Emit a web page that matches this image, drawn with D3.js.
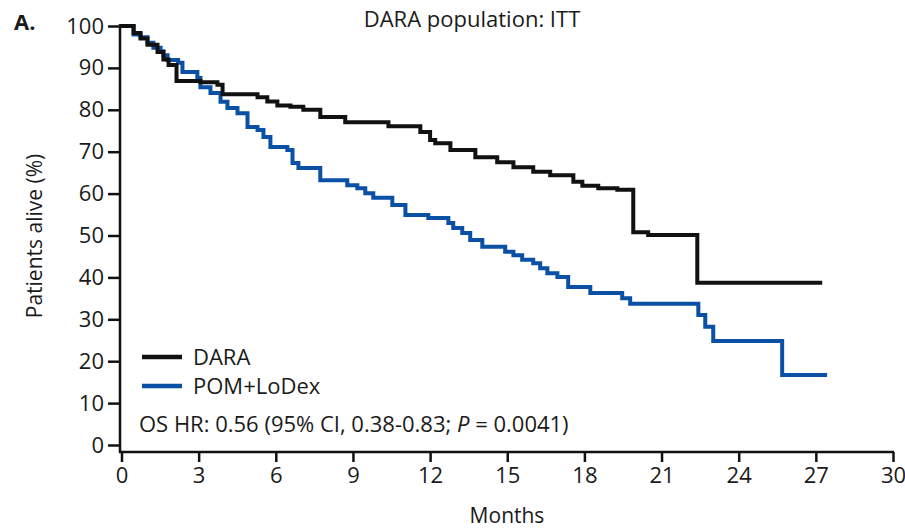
<!DOCTYPE html>
<html lang="en">
<head>
    <meta charset="UTF-8">
    <title>DARA population: ITT</title>
    <script src="https://cdn.jsdelivr.net/npm/d3@7"></script>
    <style>
        body { margin: 0; background: white; }
        svg text { font-family: "Open Sans", "Noto Sans", sans-serif; fill: #1a1a1a; }
    </style>
</head>
<body>
    <div id="chart"></div>
    <script>
        // KM step points [month, % alive]
        const daraMonths = [0, 0.47, 0.74, 1.01, 1.4, 1.63, 1.83, 2.14, 3.07, 3.73, 3.93, 5.29, 5.67, 6.06, 6.57, 7.07, 7.73, 8.7, 10.38, 11.62, 12.0, 12.2, 12.79, 13.76, 14.61, 15.24, 16.01, 16.67, 17.57, 17.92, 18.54, 19.28, 19.9, 20.48, 22.39, 27.17];
        const daraAlive = [100, 98.3, 97, 95.5, 93.8, 92, 90.7, 86.9, 86.6, 86, 83.7, 83, 82, 81, 80.7, 80, 78.3, 77, 76.1, 74.7, 72.8, 72, 70.4, 68.7, 67.5, 66.3, 65.2, 64.4, 62.8, 61.9, 61.3, 60.9, 50.8, 50.1, 38.7, 38.7];

        const pomMonths = [0, 0.47, 0.74, 1.01, 1.24, 1.52, 1.63, 1.79, 2.2, 2.37, 2.95, 3.07, 3.46, 3.85, 4.12, 4.51, 4.9, 5.29, 5.52, 5.79, 6.45, 6.65, 6.88, 7.73, 8.78, 9.17, 9.48, 9.79, 10.53, 11.04, 11.93, 12.71, 12.9, 13.25, 13.56, 14.03, 14.92, 15.24, 15.58, 16.01, 16.28, 16.56, 16.95, 17.37, 18.23, 19.47, 19.78, 22.43, 22.7, 23.01, 25.69, 27.36];
        const pomAlive = [100, 98, 97.3, 96, 94.8, 94, 93, 91.9, 91.2, 89, 87.6, 85.4, 84, 81.9, 80.4, 79.2, 75.9, 75.2, 73.5, 71.1, 70.4, 67.3, 66.1, 63.2, 62, 61.3, 60.1, 59, 57.3, 54.9, 54.2, 53, 51.8, 50.6, 48.9, 47.3, 46.1, 45.3, 44.2, 43.4, 42.2, 41, 40.1, 37.7, 36.3, 35, 33.7, 31, 28.2, 24.8, 16.7, 16.7];

        const xTicks = [0, 3, 6, 9, 12, 15, 18, 21, 24, 27, 30];
        const yTicks = [0, 10, 20, 30, 40, 50, 60, 70, 80, 90, 100];

        const seriesNames = ["DARA", "POM+LoDex"];
        const seriesColors = ["#111111", "#0a50a5"];

        const width = 905;
        const height = 529;

        const x = d3.scaleLinear().domain([0, 30]).range([121.5, 893]);
        const y = d3.scaleLinear().domain([0, 100]).range([445, 26]);

        const svg = d3.select("#chart").append("svg")
            .attr("width", width)
            .attr("height", height);

        // y axis
        const yAxis = svg.append("g")
            .attr("transform", "translate(120,0)")
            .call(d3.axisLeft(y).tickValues(yTicks).tickSize(12).tickPadding(4).tickSizeOuter(0));
        yAxis.select(".domain").remove();
        svg.append("line")
            .attr("x1", 120).attr("x2", 120)
            .attr("y1", y(100) - 2).attr("y2", 453)
            .attr("stroke", "#111").attr("stroke-width", 2.5);

        // x axis, a bit below y=0 like the original
        const xAxis = svg.append("g")
            .attr("transform", "translate(0,452)")
            .call(d3.axisBottom(x).tickValues(xTicks).tickSize(10).tickPadding(5).tickSizeOuter(0));
        xAxis.select(".domain").remove();
        svg.append("line")
            .attr("x1", 119).attr("x2", x(30) + 1)
            .attr("y1", 452).attr("y2", 452)
            .attr("stroke", "#111").attr("stroke-width", 2.5);

        svg.selectAll(".tick line").attr("stroke", "#111").attr("stroke-width", 2.5);
        svg.selectAll(".tick text").attr("font-size", 22).attr("fill", "#1a1a1a");

        // curves
        const line = d3.line()
            .x(d => x(d[0]))
            .y(d => y(d[1]))
            .curve(d3.curveStepAfter);

        const series = [
            { name: seriesNames[1], color: seriesColors[1], pts: d3.zip(pomMonths, pomAlive) },
            { name: seriesNames[0], color: seriesColors[0], pts: d3.zip(daraMonths, daraAlive) }
        ];

        svg.append("g")
            .selectAll("path")
            .data(series)
            .join("path")
            .attr("d", d => line(d.pts))
            .attr("fill", "none")
            .attr("stroke", d => d.color)
            .attr("stroke-width", 4)
            .attr("stroke-linejoin", "miter")
            .attr("stroke-linecap", "square");

        // legend
        const legend = svg.append("g");
        seriesNames.forEach((name, i) => {
            const ly = 357 + i * 29;
            legend.append("line")
                .attr("x1", 142).attr("x2", 182)
                .attr("y1", ly).attr("y2", ly)
                .attr("stroke", seriesColors[i])
                .attr("stroke-width", 4.5);
            legend.append("text")
                .attr("x", 193).attr("y", ly + 8)
                .attr("font-size", 22)
                .text(name);
        });

        const hr = legend.append("text")
            .attr("x", 139).attr("y", 432)
            .attr("font-size", 22);
        hr.append("tspan").text("OS HR: 0.56 (95% CI, 0.38-0.83; ");
        hr.append("tspan").attr("font-style", "italic").text("P");
        hr.append("tspan").text(" = 0.0041)");

        // titles
        svg.append("text")
            .attr("x", 472).attr("y", 27)
            .attr("text-anchor", "middle")
            .attr("font-size", 22)
            .text("DARA population: ITT");

        svg.append("text")
            .attr("x", 14).attr("y", 30)
            .attr("font-size", 22)
            .attr("font-weight", "bold")
            .text("A.");

        svg.append("text")
            .attr("transform", "translate(42,236) rotate(-90)")
            .attr("text-anchor", "middle")
            .attr("font-size", 21)
            .text("Patients alive (%)");

        svg.append("text")
            .attr("x", 507).attr("y", 523)
            .attr("text-anchor", "middle")
            .attr("font-size", 21)
            .text("Months");
    </script>
</body>
</html>
